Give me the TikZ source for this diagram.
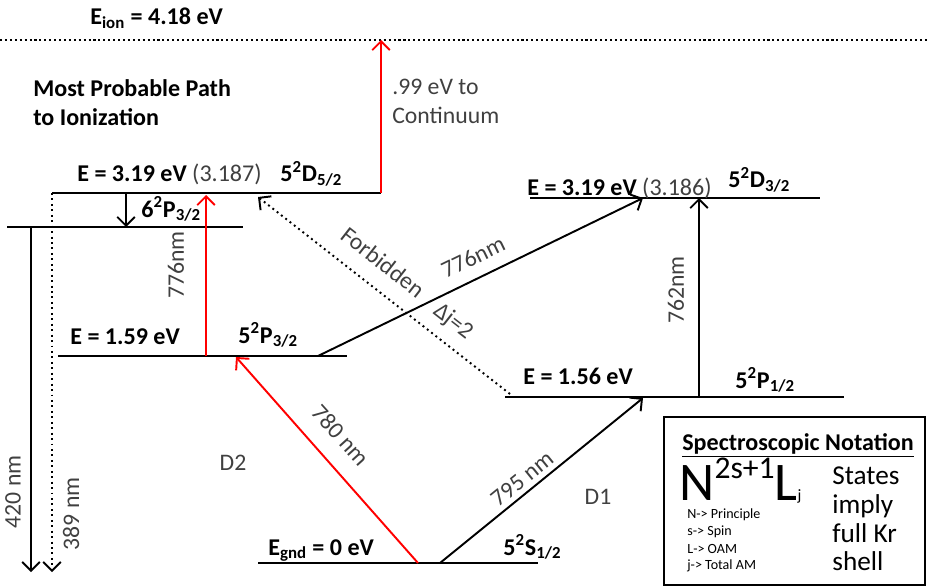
\documentclass[tikz,border=0pt]{standalone}
\usepackage{fontspec}
\setmainfont{Carlito}
\usetikzlibrary{arrows.meta}
\definecolor{txtgray}{HTML}{404040}
\newcommand{\stateterm}[3]{#1\textsuperscript{2}#2\textsubscript{#3}}

\tikzset{
  level/.style={line width=1.4pt},
  trans/.style={line width=1.1pt, -{Straight Barb[length=5pt,width=10pt]}},
  lbl/.style={font=\fontsize{13.7}{16.5}\selectfont\bfseries, inner sep=0pt, anchor=base west},
  nm/.style={font=\fontsize{13.5}{16.5}\selectfont, text=txtgray, inner sep=0pt},
  small/.style={font=\fontsize{8}{9}\selectfont, inner sep=0pt, anchor=west}
}

\begin{document}
\begin{tikzpicture}[x=0.02cm, y=-0.02cm]
        \useasboundingbox (0,0) rectangle (927,588);

        % level end points
        \coordinate (ionL) at (0,40);    \coordinate (ionR) at (927,40);
        \coordinate (d52L) at (52,193);  \coordinate (d52R) at (381,193);
        \coordinate (p63L) at (7,227);   \coordinate (p63R) at (243,227);
        \coordinate (p32L) at (58,356);  \coordinate (p32R) at (347,356);
        \coordinate (d32L) at (530,198); \coordinate (d32R) at (820,198);
        \coordinate (p12L) at (505,397); \coordinate (p12R) at (844,397);
        \coordinate (gndL) at (258,563); \coordinate (gndR) at (538,563);

        % levels
        \draw[line width=1.2pt, dash pattern=on 1.2pt off 1.6pt] (ionL) -- (ionR);
        \draw[level] (d52L) -- (d52R);
        \draw[level] (p63L) -- (p63R);
        \draw[level] (p32L) -- (p32R);
        \draw[level] (d32L) -- (d32R);
        \draw[level] (p12L) -- (p12R);
        \draw[level] (gndL) -- (gndR);

        % arrow end points
        \coordinate (ionUp) at (381,40);
        \coordinate (cascTop) at (126,193);   \coordinate (cascBot) at (126,227);
        \coordinate (redTop) at (206,195);    \coordinate (redBot) at (206,356);
        \coordinate (uvA) at (31,227);        \coordinate (uvAend) at (31,572);
        \coordinate (uvB) at (52,193);        \coordinate (uvBend) at (52,572);
        \coordinate (d2Start) at (418,563);   \coordinate (d2End) at (236,357);
        \coordinate (d1Start) at (440,563);   \coordinate (d1End) at (643,398);
        \coordinate (pdStart) at (318,356);   \coordinate (pdEnd) at (643,198);
        \coordinate (sdStart) at (699,397);   \coordinate (sdEnd) at (699,198);
        \coordinate (fbStart) at (510,394);   \coordinate (fbEnd) at (258,197);

        % transitions
        \draw[trans, red] (d52R) -- (ionUp);
        \draw[trans] (cascTop) -- (cascBot);
        \draw[trans, red] (redBot) -- (redTop);
        \draw[trans] (uvA) -- (uvAend);
        \draw[trans, dotted] (uvB) -- (uvBend);
        \draw[trans, red] (d2Start) -- (d2End);
        \draw[trans] (d1Start) -- (d1End);
        \draw[trans] (pdStart) -- (pdEnd);
        \draw[trans] (sdStart) -- (sdEnd);
        \draw[trans, dotted] (fbStart) -- (fbEnd);

        % level labels
        \node[lbl] (ionText) at (90,25) {E\textsubscript{ion} = 4.18 eV};
        \node[lbl] (d52Text) at (77,182) {E = 3.19 eV \textmd{\color{txtgray}(3.187)}};
        \node[lbl] (d52Term) at (280,182) {\stateterm{5}{D}{5/2}};
        \node[lbl] (p63Term) at (141,217) {\stateterm{6}{P}{3/2}};
        \node[lbl] (p32Text) at (70,344) {E = 1.59 eV};
        \node[lbl] (p32Term) at (238,343) {\stateterm{5}{P}{3/2}};
        \node[lbl] (d32Text) at (527,195) {E = 3.19 eV \textmd{\color{txtgray}(3.186)}};
        \node[lbl] (d32Term) at (728,188) {\stateterm{5}{D}{3/2}};
        \node[lbl] (p12Text) at (523,384) {E = 1.56 eV};
        \node[lbl] (p12Term) at (735,388) {\stateterm{5}{P}{1/2}};
        \node[lbl] (gndText) at (268,555) {E\textsubscript{gnd} = 0 eV};
        \node[lbl] (gndTerm) at (503,555) {\stateterm{5}{S}{1/2}};

        \node[lbl, align=left, anchor=north west] (pathText) at (33,79) {Most Probable Path\\to Ionization};
        \node[nm, align=left, anchor=north west] (contText) at (392,79) {.99 eV to\\Continuum};

        % wavelength labels
        \node[nm, rotate=90] (lblRed) at (176,265) {776nm};
        \node[nm, rotate=90] (lbl762) at (676,290) {762nm};
        \node[nm, rotate=90] (lbl420) at (13,492) {420 nm};
        \node[nm, rotate=90] (lbl389) at (71,514) {389 nm};
        \node[nm, rotate=26] (lbl776) at (473,257) {776nm};
        \node[nm, rotate=-38] (lblFb) at (383,262) {Forbidden};
        \node[nm, rotate=-38] (lblDj) at (453,322) {Δj=2};
        \node[nm, rotate=-48] (lbl780) at (341,435) {780 nm};
        \node[nm, rotate=39] (lbl795) at (522,479) {795 nm};
        \node[nm] (lblD2) at (233,463) {D2};
        \node[nm] (lblD1) at (598,497) {D1};

        % notation box
        \draw[line width=0.9pt] (664,417) rectangle (925,585);
        \node[lbl] (notTitle) at (682,450) {\underline{Spectroscopic Notation}};
        \node[inner sep=0pt, anchor=base west] (notTerm) at (679,500)
            {\fontsize{31}{31}\selectfont N\raisebox{12.5pt}{\fontsize{18}{18}\selectfont 2s+1}L\fontsize{9}{9}\selectfont j};
        \node[small] (notN) at (687,515) {N-> Principle};
        \node[small] (notS) at (687,532) {s-> Spin};
        \node[small] (notL) at (687,549) {L-> OAM};
        \node[small] (notJ) at (687,566) {j-> Total AM};
        \node[inner sep=0pt, anchor=north west, align=left, font=\fontsize{15.5}{16.5}\selectfont] (notStates) at (832,466) {States\\imply\\full Kr\\shell};
\end{tikzpicture}
\end{document}
